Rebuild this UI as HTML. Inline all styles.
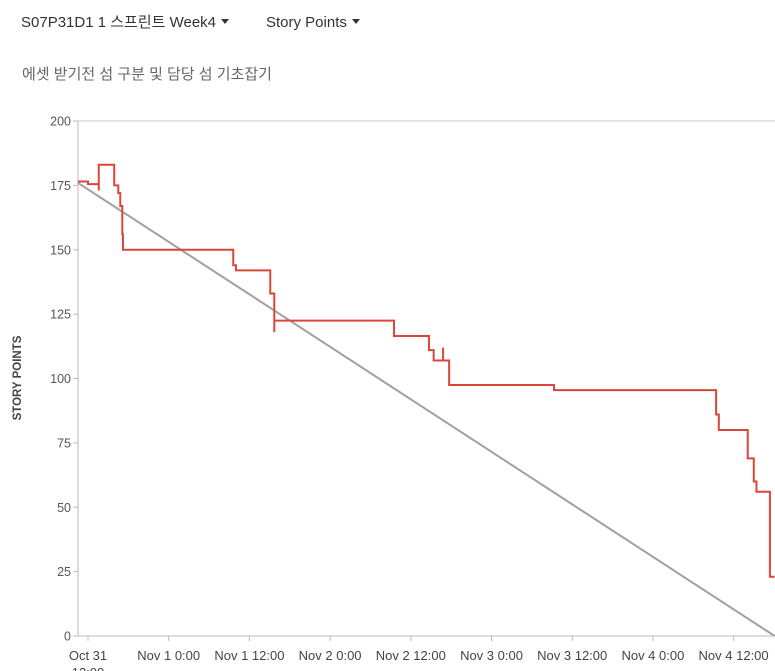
<!DOCTYPE html>
<html><head><meta charset="utf-8"><style>
body{margin:0;width:775px;height:671px;overflow:hidden;background:#fff;font-family:"Segoe UI","Liberation Sans","Noto Sans CJK KR",sans-serif;}
.hdr{position:absolute;top:13px;font-size:15px;color:#333;line-height:20px;height:20px;}
.caret{display:inline-block;border-left:4px solid transparent;border-right:4px solid transparent;border-top:5px solid #333;vertical-align:middle;margin-left:5px;margin-top:-3px}
</style></head><body>
<div class="hdr" style="left:21px">S07P31D1 1 스프린트 Week4<span class="caret"></span></div>
<div class="hdr" style="left:266px">Story Points<span class="caret"></span></div>
<div style="position:absolute;left:22px;top:65px;font-size:15px;line-height:20px;color:#666">에셋 받기전 섬 구분 및 담당 섬 기초잡기</div>
<svg id="c" width="775" height="671" style="position:absolute;left:0;top:0"></svg>
<script>
const yTicks=[0,25,50,75,100,125,150,175,200];
const xTickHours=[0,12,24,36,48,60,72,84,96];
const xTickLabels=["Oct 31","Nov 1 0:00","Nov 1 12:00","Nov 2 0:00","Nov 2 12:00","Nov 3 0:00","Nov 3 12:00","Nov 4 0:00","Nov 4 12:00"];
const stepTimes=[-1.5,0,1.6,1.6,3.9,4.5,4.8,5.1,5.2,21.6,22.0,27.1,27.7,27.7,45.5,50.7,51.4,52.8,52.8,53.7,69.3,93.4,93.8,98.1,99.0,99.4,101.4];
const stepValues=[176.5,175.5,173,183,175,172,167,156,150,144,142,133,118,122.5,116.5,111,107,112,107,97.5,95.5,86,80,69,60,56,23];
const endTime=102.1;
const idealStart=[-1.5,176];
const idealEnd=[102.1,0];
const NS="http://www.w3.org/2000/svg";
const svg=document.getElementById('c');
const X0=78,X1=775,Y0=636,Y1=121;
const x=h=>88+h*80.7/12;
const y=v=>Y0-(v/200)*(Y0-Y1);
function mk(t,a){const e=document.createElementNS(NS,t);for(const k in a)e.setAttribute(k,a[k]);svg.appendChild(e);return e;}
let e;
e=mk('line',{x1:X0,y1:Y1,x2:X1,y2:Y1,stroke:'#c8c8c8'});


e=mk('line',{x1:X0,y1:Y1,x2:X0,y2:Y0,stroke:'#bbb'});


e=mk('line',{x1:X0,y1:Y0,x2:X1,y2:Y0,stroke:'#bbb'});


yTicks.forEach(v=>{
 e=mk('line',{x1:X0-5,y1:y(v),x2:X0,y2:y(v),stroke:'#bbb'});
 
 
 e=mk('text',{x:71,y:y(v)+4.5,'text-anchor':'end','font-size':12.5,fill:'#555'});
 e.textContent=v;
 
 
});
xTickHours.forEach((h,i)=>{
 e=mk('line',{x1:x(h),y1:Y0,x2:x(h),y2:Y0+5,stroke:'#bbb'});
 
 
 e=mk('text',{x:x(h),y:660,'text-anchor':'middle','font-size':13,fill:'#444'});
 e.textContent=xTickLabels[i];
 
 
});
e=mk('text',{x:x(0),y:677,'text-anchor':'middle','font-size':13,fill:'#444'});
e.textContent="12:00";


e=mk('text',{x:21,y:378,'text-anchor':'middle','font-size':11.5,'font-weight':'bold',fill:'#444',transform:'rotate(-90 21 378)'});
e.textContent="STORY POINTS";


e=mk('line',{x1:x(idealStart[0]),y1:y(idealStart[1]),x2:x(idealEnd[0]),y2:y(idealEnd[1]),stroke:'#a0a0a0','stroke-width':2});


let d='M'+x(stepTimes[0])+','+y(stepValues[0]);
for(let i=1;i<stepTimes.length;i++){d+=' H'+x(stepTimes[i])+' V'+y(stepValues[i]);}
d+=' H'+x(endTime);
e=mk('path',{d:d,fill:'none',stroke:'#d9473b','stroke-width':2});


</script>
</body></html>
